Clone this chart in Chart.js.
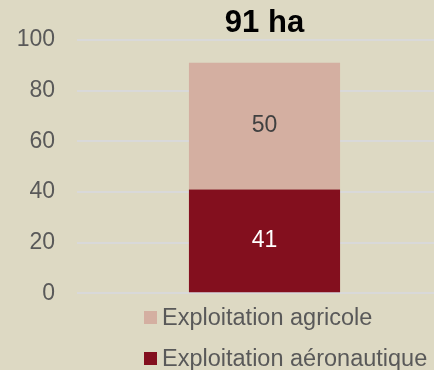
<!DOCTYPE html>
<html lang="fr">
<head>
<meta charset="utf-8">
<script src="https://cdn.jsdelivr.net/npm/chart.js@4/dist/chart.umd.min.js"></script>
<style>
  html, body { margin: 0; padding: 0; }
  body {
    width: 434px; height: 370px; overflow: hidden; position: relative;
    background: #DDD9C3;
    font-family: 'Liberation Sans', Arial, sans-serif;
  }
  #wrap { position: absolute; left: 0; top: 0; width: 452px; height: 329px; }
  #legend { position: absolute; left: 144px; top: 304px; }
  #legend .row { display: flex; align-items: center; height: 27px; margin-bottom: 13.5px; }
  #legend .box { width: 13px; height: 13px; margin-right: 5px; }
  #legend .txt { font-size: 23.5px; color: #595959; white-space: nowrap; }
</style>
</head>
<body>
<div id="wrap"><canvas id="myChart"></canvas></div>
<div id="legend"></div>
<script>
const titleText = '91 ha';
const categories = [''];
const seriesNames = ['Exploitation aéronautique', 'Exploitation agricole'];
const aeroValues = [41];
const agriValues = [50];
const seriesColors = ['#830F1E', '#D4AFA1'];
const labelColors = ['#FFFFFF', '#404040'];
const yTicks = [0, 20, 40, 60, 80, 100];

const font = "'Liberation Sans', Arial, sans-serif";

// value printed in the middle of each stacked segment
const barValues = {
    id: 'barValues',
    afterDatasetsDraw(chart) {
        const ctx = chart.ctx;
        ctx.save();
        ctx.font = '23px ' + font;
        ctx.textAlign = 'center';
        ctx.textBaseline = 'middle';
        chart.data.datasets.forEach((ds, i) => {
            const meta = chart.getDatasetMeta(i);
            meta.data.forEach((bar, j) => {
                ctx.fillStyle = labelColors[i];
                ctx.fillText(ds.data[j], bar.x, (bar.y + bar.base) / 2);
            });
        });
        ctx.restore();
    }
};

// legend in html, top of stack listed first
const htmlLegend = {
    id: 'htmlLegend',
    afterUpdate(chart) {
        const box = document.getElementById('legend');
        box.innerHTML = '';
        chart.data.datasets.slice().reverse().forEach(ds => {
            const row = document.createElement('div');
            row.className = 'row';
            const sw = document.createElement('span');
            sw.className = 'box';
            sw.style.background = ds.backgroundColor;
            const t = document.createElement('span');
            t.className = 'txt';
            t.textContent = ds.label;
            row.appendChild(sw);
            row.appendChild(t);
            box.appendChild(row);
        });
    }
};

const ctx = document.getElementById('myChart').getContext('2d');
const myChart = new Chart(ctx, {
    type: 'bar',
    data: {
        labels: categories,
        datasets: [
            { label: seriesNames[0], data: aeroValues, backgroundColor: seriesColors[0] },
            { label: seriesNames[1], data: agriValues, backgroundColor: seriesColors[1] }
        ]
    },
    plugins: [barValues, htmlLegend],
    options: {
        animation: false,
        responsive: true,
        maintainAspectRatio: false,
        layout: { padding: { left: 16.5, right: 0, top: 0, bottom: 15 } },
        datasets: {
            bar: { barPercentage: 0.403, categoryPercentage: 1 }
        },
        plugins: {
            legend: { display: false },
            tooltip: { enabled: false },
            title: {
                display: true,
                text: titleText,
                fullSize: false,
                color: '#000',
                font: { family: font, size: 31, weight: 'bold', lineHeight: 1 },
                padding: { top: 8, bottom: 1 }
            }
        },
        scales: {
            x: {
                stacked: true,
                display: false
            },
            y: {
                stacked: true,
                min: yTicks[0],
                max: yTicks[yTicks.length - 1],
                afterBuildTicks: axis => { axis.ticks = yTicks.map(v => ({ value: v })); },
                afterFit: axis => { axis.width = 60.5; },
                grid: { color: '#D9D9D9', lineWidth: 2, drawTicks: false },
                border: { display: false },
                ticks: {
                    color: '#595959',
                    padding: 22,
                    font: { family: font, size: 23 }
                }
            }
        }
    }
});
</script>
</body>
</html>
